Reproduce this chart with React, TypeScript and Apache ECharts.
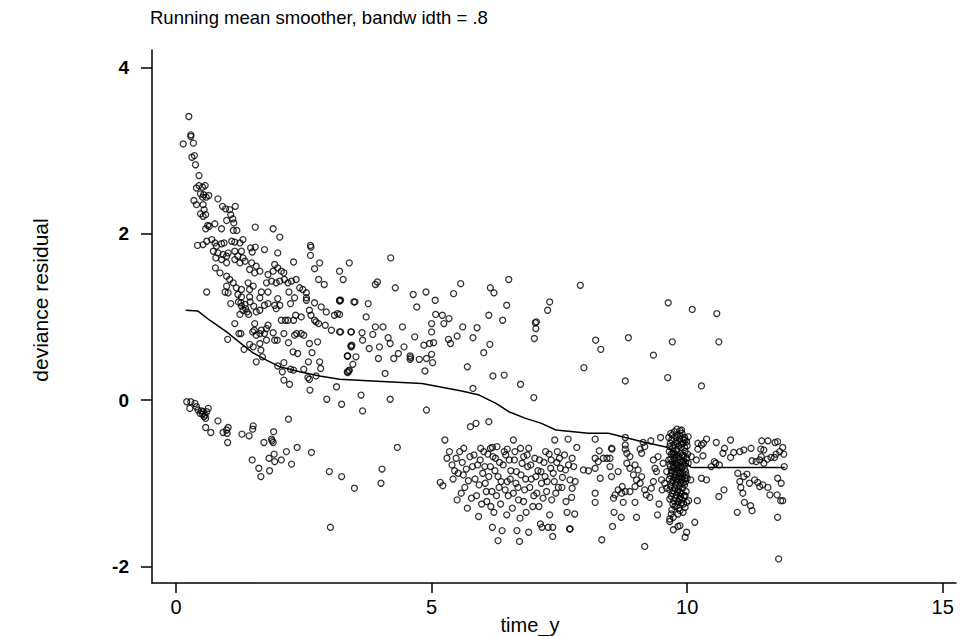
import React, { useEffect, useRef } from "react";
import * as echarts from "echarts";

// Running mean smoother line
const smoothX = [0.19, 0.43, 0.66, 0.99, 1.25, 1.5, 1.77, 2.03, 2.42, 2.81, 3.2, 3.84, 4.81, 5.15, 5.59, 5.93, 6.26, 6.51, 6.84, 7.15, 7.43, 8.07, 8.46, 8.79, 9.18, 9.63, 9.88, 10.08, 11.91];
const smoothY = [1.08, 1.07, 0.96, 0.82, 0.69, 0.57, 0.48, 0.4, 0.34, 0.29, 0.25, 0.23, 0.2, 0.16, 0.11, 0.06, -0.04, -0.14, -0.22, -0.28, -0.36, -0.4, -0.4, -0.45, -0.51, -0.57, -0.69, -0.81, -0.81];

// Upper steep band (early times, positive residuals)
const steepBand: number[][] = [
  [0.25, 3.41], [0.29, 3.19], [0.29, 3.17], [0.14, 3.08], [0.34, 3.09], [0.31, 2.92], [0.36, 2.94], [0.38, 2.83], [0.45, 2.7],
  [0.4, 2.55], [0.45, 2.58], [0.52, 2.56], [0.57, 2.58], [0.48, 2.48], [0.54, 2.47], [0.52, 2.44], [0.59, 2.44], [0.64, 2.46],
  [0.35, 2.4], [0.4, 2.35], [0.53, 2.35], [0.82, 2.42], [0.91, 2.33], [0.97, 2.3], [1.05, 2.29], [1.16, 2.33],
  [0.48, 2.24], [0.53, 2.21], [0.58, 2.23], [0.55, 2.29], [1.07, 2.23], [1.11, 2.18], [0.99, 2.16], [1.13, 2.13],
  [0.76, 2.12], [0.62, 2.1], [0.65, 2.09], [0.58, 2.06], [0.89, 2.06], [1.12, 2.04], [1.19, 2.04], [1.55, 2.08], [1.9, 2.06], [2.03, 1.96],
  [0.42, 1.86], [0.53, 1.87], [0.6, 1.91], [0.7, 1.93], [0.76, 1.89], [0.79, 1.85], [0.89, 1.88], [0.94, 1.89], [1.09, 1.91], [1.15, 1.9], [1.25, 1.89], [1.31, 1.93],
  [1.46, 1.83], [1.55, 1.84], [1.49, 1.78], [1.73, 1.81], [1.99, 1.77], [2.63, 1.86], [2.64, 1.84], [2.63, 1.74],
  [0.73, 1.79], [0.82, 1.77], [0.78, 1.71], [0.92, 1.75], [0.99, 1.73], [1.02, 1.77], [0.89, 1.69], [0.99, 1.65],
  [1.15, 1.79], [1.28, 1.79], [1.21, 1.73], [1.15, 1.69], [1.31, 1.71], [1.25, 1.65], [1.35, 1.67],
  [1.48, 1.65], [1.57, 1.61], [1.64, 1.55], [1.44, 1.57], [1.54, 1.53],
  [1.93, 1.63], [1.99, 1.59], [2.06, 1.55], [2.11, 1.53], [1.9, 1.55],
  [2.3, 1.66], [2.81, 1.65], [2.71, 1.58], [3.39, 1.65], [3.2, 1.55], [3.27, 1.45], [2.9, 1.39], [2.79, 1.45],
  [0.77, 1.59], [0.86, 1.53], [0.99, 1.49], [1.05, 1.45], [1.12, 1.41], [0.99, 1.37], [1.18, 1.35], [1.28, 1.33], [1.41, 1.41], [1.44, 1.33], [1.51, 1.37],
  [1.8, 1.51], [1.87, 1.43], [1.77, 1.41], [1.96, 1.41], [2.03, 1.43], [2.12, 1.45], [2.19, 1.41], [2.26, 1.43], [2.35, 1.45], [2.42, 1.35], [2.48, 1.33], [2.55, 1.29],
  [2.21, 1.3], [1.8, 1.3], [1.67, 1.3], [0.6, 1.3], [0.96, 1.3], [1.02, 1.29], [1.21, 1.27], [1.28, 1.24], [1.44, 1.24], [1.64, 1.23], [1.99, 1.22], [2.32, 1.23], [2.55, 1.23], [3.2, 1.2],
  [1.07, 1.16], [1.31, 1.08], [1.39, 1.06], [1.57, 1.06], [1.64, 1.08], [1.73, 1.14], [1.8, 1.16], [1.93, 1.14], [1.96, 1.1], [2.03, 1.14], [2.24, 1.16], [2.55, 1.2], [2.71, 1.17], [2.84, 1.12], [2.94, 1.06], [3.1, 1.02], [3.16, 1.04], [3.22, 1.2], [3.48, 1.18],
  [1.27, 1.17], [1.35, 1.15], [1.45, 1.18], [1.52, 1.13], [1.22, 1.18], [1.28, 1.13], [1.36, 1.1], [1.42, 1.03], [1.25, 1.03],
  [1.15, 0.92], [1.23, 0.8], [1.27, 0.8], [1.01, 0.73],
  [1.54, 0.92], [1.5, 0.82], [1.53, 0.84], [1.57, 0.78], [1.64, 0.8], [1.67, 0.84], [1.77, 0.86], [1.73, 0.8], [1.8, 0.9], [1.77, 0.72],
  [1.44, 0.67], [1.64, 0.68], [1.66, 0.6], [1.33, 0.61], [1.51, 0.64], [1.57, 0.46], [1.69, 0.52],
  [1.9, 0.81], [1.93, 0.72], [1.98, 0.72], [2.06, 0.96], [2.14, 0.96], [2.19, 0.96], [2.3, 0.96], [2.34, 1.02], [2.45, 1.0],
  [2.11, 0.8], [2.2, 0.69], [2.32, 0.78], [2.36, 0.8], [2.45, 0.8], [2.5, 0.78], [2.29, 0.58], [2.38, 0.56],
  [2.59, 0.46], [2.66, 0.57], [2.61, 0.68], [2.77, 0.7], [2.81, 0.46], [2.83, 0.38],
  [2.61, 1.08], [2.64, 1.02], [2.71, 0.96], [2.74, 0.94], [2.79, 0.92], [2.92, 0.9], [3.04, 0.84], [3.22, 0.82], [3.42, 0.82],
  [3.42, 0.65], [3.36, 0.53], [3.46, 0.43], [3.39, 0.36], [3.35, 0.34],
  [1.99, 0.41], [2.11, 0.45], [2.08, 0.34], [2.24, 0.37], [2.3, 0.36], [2.5, 0.37], [2.58, 0.27], [2.61, 0.25], [2.74, 0.29], [2.11, 0.24], [2.22, 0.19], [2.62, 0.12], [3.14, 0.16], [2.95, 0.01], [3.24, -0.05]
];

// Middle times, positive residuals
const midUpper: number[][] = [
  [4.2, 1.71], [3.9, 1.39], [3.94, 1.42], [4.29, 1.35], [4.64, 1.27], [4.89, 1.3], [4.71, 1.12], [5.07, 1.2], [5.57, 1.4], [5.43, 1.28], [6.15, 1.35], [6.22, 1.29], [6.51, 1.45], [6.47, 1.14], [6.12, 1.02], [6.39, 0.96],
  [3.2, 1.19], [3.5, 1.18], [3.76, 1.16], [3.2, 1.03], [3.72, 1.0], [3.2, 0.82], [3.43, 0.82], [3.64, 0.81], [3.65, 0.72], [3.85, 0.79], [3.9, 0.88], [4.05, 0.88],
  [3.43, 0.64], [3.44, 0.66], [3.78, 0.62], [3.98, 0.64], [4.15, 0.75], [4.19, 0.68], [4.43, 0.88], [4.46, 0.64], [4.35, 0.56], [4.26, 0.5], [3.96, 0.5], [3.35, 0.53], [3.52, 0.52], [3.36, 0.33], [3.38, 0.35], [4.09, 0.32],
  [4.58, 0.53], [4.58, 0.49], [4.59, 0.51], [4.76, 0.49], [4.67, 0.76], [4.85, 0.66], [4.9, 0.5], [4.87, 0.35], [5.0, 0.55], [5.02, 0.45], [4.96, 0.68], [5.04, 0.69], [5.0, 0.82], [5.0, 0.92],
  [5.08, 1.03], [5.21, 1.02], [5.34, 0.98], [5.24, 0.92], [5.33, 0.73], [5.37, 0.68], [5.5, 0.77], [5.61, 0.88], [5.81, 0.75], [5.89, 0.87], [6.14, 0.67], [6.02, 0.57], [5.7, 0.4], [6.2, 0.29], [6.42, 0.3], [6.74, 0.19],
  [7.03, 0.93], [7.05, 0.94], [7.04, 0.86], [7.01, 0.74], [7.27, 1.08], [7.31, 1.18], [7.91, 1.38], [7.98, 0.39], [7.0, 0.03], [5.81, 0.14], [3.62, 0.06], [4.19, 0.01], [3.65, -0.13], [4.9, -0.12]
];

// Late times, positive residuals
const lateUpper: number[][] = [
  [9.63, 1.17], [10.1, 1.09], [10.58, 1.04], [8.21, 0.72], [8.85, 0.75], [8.31, 0.61], [9.71, 0.7], [10.62, 0.7], [9.34, 0.54], [8.79, 0.23], [9.62, 0.27], [10.28, 0.17]
];

// Early times, negative residuals
const lowerLeft: number[][] = [
  [0.21, -0.02], [0.29, -0.02], [0.37, -0.04], [0.27, -0.1], [0.4, -0.08], [0.43, -0.12], [0.47, -0.16], [0.53, -0.14], [0.6, -0.14], [0.63, -0.1], [0.57, -0.18], [0.52, -0.17], [0.58, -0.22], [0.55, -0.2], [0.5, -0.13],
  [0.82, -0.25], [0.58, -0.33], [0.68, -0.39], [0.92, -0.39], [0.99, -0.36], [1.02, -0.33], [1.0, -0.4], [1.01, -0.51],
  [1.29, -0.41], [1.43, -0.43], [1.5, -0.35], [1.51, -0.31], [2.2, -0.23], [1.91, -0.38], [1.87, -0.47], [1.9, -0.51], [1.88, -0.49], [1.72, -0.51], [2.37, -0.57], [2.65, -0.63],
  [1.92, -0.65], [1.82, -0.7], [1.93, -0.74], [2.06, -0.72], [2.16, -0.62], [1.49, -0.72], [1.62, -0.82], [1.66, -0.92], [1.83, -0.85], [2.26, -0.77], [3.0, -0.86], [3.24, -0.92], [3.49, -1.06], [3.02, -1.53],
  [4.03, -0.83], [4.01, -1.0], [4.33, -0.57]
];

// Middle times, negative residuals
const lowerMid: number[][] = [
  [5.76, -0.32], [5.87, -0.28], [6.12, -0.26], [5.26, -0.48], [6.6, -0.48], [7.41, -0.48], [7.67, -0.47], [7.84, -0.57], [5.96, -0.58], [6.15, -0.58], [6.19, -0.57], [6.28, -0.56], [6.48, -0.59], [6.74, -0.58], [6.9, -0.58],
  [5.17, -0.99], [5.22, -1.03], [5.3, -0.7], [5.45, -0.85], [5.5, -1.2], [5.55, -0.62], [5.6, -0.75], [5.62, -0.9], [5.65, -1.05], [5.7, -1.3], [5.75, -0.68], [5.8, -0.8], [5.85, -0.95], [5.88, -1.15], [5.92, -1.4],
  [5.95, -0.72], [6.0, -0.88], [6.05, -1.0], [6.08, -1.22], [6.1, -0.65], [6.15, -0.8], [6.18, -1.1], [6.22, -1.35], [6.25, -0.7], [6.3, -0.92], [6.32, -1.05], [6.35, -1.25], [6.38, -1.57], [6.3, -1.69], [6.19, -1.53],
  [6.4, -0.78], [6.45, -0.66], [6.48, -0.98], [6.5, -1.15], [6.55, -0.85], [6.58, -1.3], [6.62, -0.72], [6.65, -1.0], [6.67, -1.57], [6.72, -1.7], [6.7, -1.2], [6.75, -0.9], [6.8, -0.68], [6.82, -1.08], [6.85, -1.35],
  [6.9, -1.59], [6.88, -0.8], [6.95, -0.95], [7.0, -1.15], [7.02, -0.7], [7.08, -0.85], [7.1, -1.28], [7.13, -1.49], [7.16, -1.53], [7.15, -1.0], [7.2, -0.75], [7.22, -0.92], [7.25, -1.1], [7.28, -1.53], [7.3, -0.65],
  [7.33, -0.82], [7.35, -1.2], [7.37, -1.53], [7.37, -1.64], [7.4, -0.98], [7.45, -0.75], [7.48, -1.05], [7.7, -1.55],
  [5.35, -0.62], [5.4, -0.78], [5.42, -0.95], [5.48, -0.7], [5.52, -0.88], [5.58, -1.12], [5.63, -0.58], [5.68, -0.83], [5.72, -0.97], [5.78, -1.18],
  [5.83, -0.66], [5.9, -0.78], [5.93, -1.02], [5.98, -1.25], [6.02, -0.62], [6.04, -0.8], [6.07, -1.1], [6.12, -0.92], [6.16, -1.28], [6.2, -0.68],
  [6.24, -0.85], [6.27, -1.15], [6.33, -0.75], [6.36, -0.98], [6.42, -0.62], [6.44, -1.08], [6.47, -1.38], [6.52, -0.72], [6.54, -0.95], [6.6, -1.12],
  [6.63, -0.62], [6.66, -0.86], [6.69, -1.05], [6.73, -1.42], [6.77, -0.76], [6.8, -1.22], [6.84, -0.95], [6.87, -0.66], [6.92, -1.05], [6.94, -0.78],
  [6.98, -1.28], [7.04, -0.92], [7.06, -1.12], [7.11, -0.72], [7.14, -0.86], [7.18, -1.18], [7.23, -0.62], [7.26, -0.98], [7.31, -1.38], [7.34, -0.72],
  [7.38, -0.88], [7.43, -1.12], [7.46, -0.62], [7.52, -0.82], [7.55, -1.05], [7.6, -0.66], [7.63, -1.22], [7.68, -0.78]
];

// Late times, negative residuals
const lowerRight: number[][] = [
  [8.2, -0.47], [8.79, -0.45], [8.79, -0.54], [8.79, -0.59], [8.82, -0.64], [8.88, -0.68], [9.14, -0.51], [9.17, -0.56], [9.08, -0.59], [9.11, -0.64], [9.29, -0.49], [9.48, -0.45], [8.52, -0.58], [8.53, -0.59], [8.28, -0.61],
  [7.5, -0.7], [7.62, -0.84], [7.56, -0.93], [7.75, -0.7], [7.78, -0.8], [7.71, -0.96], [7.81, -0.98], [7.75, -1.06], [7.74, -1.17], [7.65, -1.35], [7.8, -1.37], [7.71, -1.55],
  [7.97, -0.84], [8.07, -0.85], [8.2, -0.82], [8.3, -0.94], [8.2, -1.12], [8.2, -1.23], [8.2, -0.7], [8.26, -0.74], [8.36, -0.7], [8.43, -0.7], [8.49, -0.7], [8.49, -0.8], [8.65, -0.86], [8.52, -0.92],
  [8.33, -1.68], [8.54, -1.52], [8.57, -1.35], [8.71, -1.41], [8.56, -1.18], [8.59, -1.14], [8.65, -1.08], [8.73, -1.04], [8.72, -1.12], [8.79, -1.1], [8.88, -1.1], [8.75, -1.23], [8.98, -1.23], [9.01, -1.41], [9.17, -1.76],
  [8.82, -0.76], [8.88, -0.82], [8.98, -0.78], [9.04, -0.84], [8.95, -0.9], [9.01, -0.96], [9.08, -1.0], [8.98, -1.04], [9.11, -0.92],
  [9.17, -1.08], [9.2, -1.14], [9.27, -1.17], [9.3, -1.06], [9.34, -0.98], [9.37, -0.82], [9.4, -0.86], [9.43, -0.68], [9.34, -0.72], [9.42, -1.38], [9.45, -1.25], [9.5, -0.96], [9.56, -1.0], [9.51, -1.08], [9.6, -1.06], [9.53, -0.76], [9.6, -0.86],
  [9.66, -1.43], [9.69, -1.37], [9.73, -1.41], [9.82, -1.37], [9.86, -1.33], [9.92, -1.35], [9.89, -1.24], [9.96, -1.29], [9.99, -1.23], [10.03, -1.21],
  [9.73, -1.56], [9.86, -1.51], [9.99, -1.59], [9.96, -1.65], [10.15, -1.47], [9.66, -1.46], [9.82, -1.52], [10.2, -1.21],
  [10.07, -0.96], [10.28, -0.94], [10.38, -0.96], [10.08, -0.68], [10.18, -0.72], [10.21, -0.52], [10.28, -0.54], [10.32, -0.52], [10.38, -0.47], [10.21, -0.59], [10.31, -0.67], [10.02, -0.44], [9.96, -0.48], [9.86, -0.37], [9.89, -0.36],
  [10.47, -0.8], [10.53, -0.74], [10.56, -0.76], [10.63, -0.78], [10.57, -0.51], [10.7, -0.64], [10.73, -0.58], [10.85, -0.48], [10.85, -0.69], [10.91, -0.63], [11.03, -0.62], [11.11, -0.6], [11.25, -0.58],
  [10.62, -1.16], [10.72, -1.08], [10.98, -1.35], [10.99, -0.88], [11.03, -0.98], [11.05, -1.05], [11.11, -0.92], [11.17, -0.89], [11.09, -1.12], [11.12, -1.23], [11.24, -1.27], [11.27, -1.33], [11.22, -1.0], [11.32, -0.96], [11.38, -0.99],
  [11.27, -0.73], [11.35, -0.74], [11.42, -0.72], [11.45, -0.68], [11.5, -0.76], [11.57, -0.71], [11.64, -0.69], [11.42, -1.04], [11.48, -1.02], [11.58, -1.05], [11.62, -1.14], [11.76, -1.14], [11.77, -0.94], [11.84, -1.0], [11.83, -1.21], [11.77, -1.41], [11.9, -0.8],
  [11.46, -0.49], [11.58, -0.49], [11.72, -0.51], [11.77, -0.5], [11.87, -0.57], [11.81, -0.62], [11.89, -0.65], [11.74, -0.65], [11.71, -0.69], [11.44, -0.59], [11.5, -0.6], [11.87, -1.21], [11.79, -1.91]
];

// Dense column of observations near time 10
const cluster10: number[][] = [
  [9.68, -0.4], [9.75, -0.38], [9.82, -0.42], [9.9, -0.4], [9.95, -0.45], [9.7, -0.48], [9.78, -0.5], [9.85, -0.47], [9.92, -0.52], [10.0, -0.55],
  [9.66, -0.56], [9.72, -0.58], [9.8, -0.6], [9.88, -0.57], [9.96, -0.62], [9.69, -0.65], [9.76, -0.66], [9.84, -0.68], [9.91, -0.66], [9.99, -0.7],
  [9.64, -0.72], [9.71, -0.74], [9.79, -0.76], [9.86, -0.74], [9.94, -0.78], [10.02, -0.76], [9.67, -0.8], [9.74, -0.82], [9.82, -0.84], [9.89, -0.82],
  [9.97, -0.86], [9.7, -0.88], [9.77, -0.9], [9.85, -0.92], [9.92, -0.9], [10.0, -0.94], [9.65, -0.95], [9.73, -0.97], [9.8, -0.99], [9.88, -1.0],
  [9.95, -1.02], [9.68, -1.04], [9.76, -1.06], [9.83, -1.08], [9.91, -1.06], [9.98, -1.1], [9.71, -1.12], [9.79, -1.14], [9.87, -1.16], [9.94, -1.15],
  [9.66, -1.19], [9.74, -1.21], [9.82, -1.22], [9.9, -1.2], [9.76, -1.28], [9.84, -1.3], [9.7, -1.32], [9.8, -0.35], [9.87, -0.88], [9.75, -0.7],
  [9.83, -0.55], [9.93, -0.73], [9.78, -0.96], [9.86, -1.11], [9.73, -0.62], [9.97, -0.98], [9.81, -0.79], [9.9, -0.95],
  [9.64, -0.45], [9.71, -0.42], [9.79, -0.45], [9.86, -0.43], [9.93, -0.48], [9.99, -0.5], [9.67, -0.52], [9.74, -0.54], [9.81, -0.52], [9.89, -0.53],
  [9.95, -0.57], [9.65, -0.62], [9.72, -0.64], [9.8, -0.66], [9.87, -0.64], [9.94, -0.67], [10.01, -0.65], [9.68, -0.71], [9.76, -0.72], [9.83, -0.72],
  [9.9, -0.74], [9.97, -0.75], [9.66, -0.77], [9.73, -0.79], [9.8, -0.81], [9.87, -0.8], [9.95, -0.83], [9.69, -0.85], [9.76, -0.86], [9.84, -0.88],
  [9.91, -0.87], [9.98, -0.9], [9.67, -0.91], [9.74, -0.93], [9.81, -0.94], [9.89, -0.92], [9.96, -0.94], [9.7, -0.99], [9.77, -1.01], [9.85, -1.03],
  [9.92, -1.0], [9.66, -1.08], [9.73, -1.09], [9.81, -1.1], [9.89, -1.12], [9.96, -1.15], [9.69, -1.16], [9.77, -1.18], [9.85, -1.19], [9.93, -1.25],
  [9.72, -1.25], [9.8, -1.27]
];

const xTicks = [0, 5, 10, 15];
const yTicks = [-2, 0, 2, 4];

const FONT = "'Liberation Sans', Arial, Helvetica, sans-serif";

export default function App() {
  const ref = useRef<HTMLDivElement>(null);
  useEffect(() => {
    if (!ref.current) return;
    const chart = echarts.init(ref.current, undefined, { renderer: "svg" });
    const points = [...steepBand, ...midUpper, ...lateUpper, ...lowerLeft, ...lowerMid, ...lowerRight, ...cluster10];
    const line = smoothX.map((x, i) => [x, smoothY[i]]);
    chart.setOption({
      animation: false,
      backgroundColor: "#ffffff",
      grid: { left: 152, right: 4, top: 50, bottom: 53, containLabel: false },
      xAxis: {
        type: "value",
        min: -0.47,
        max: 15.26,
        axisLine: { show: true, onZero: false, lineStyle: { color: "#000", width: 1.5 } },
        axisTick: { show: true, customValues: xTicks, length: 10, inside: false, lineStyle: { color: "#000", width: 1.5 } },
        axisLabel: { customValues: xTicks, fontSize: 20, color: "#000", fontFamily: FONT, margin: 14 },
        splitLine: { show: false },
      },
      yAxis: {
        type: "value",
        min: -2.2,
        max: 4.21,
        axisLine: { show: true, onZero: false, lineStyle: { color: "#000", width: 1.5 } },
        axisTick: { show: true, customValues: yTicks, length: 11, inside: false, lineStyle: { color: "#000", width: 1.5 } },
        axisLabel: { customValues: yTicks, fontSize: 19, fontWeight: "bold", color: "#000", fontFamily: FONT, margin: 23 },
        splitLine: { show: false },
      },
      graphic: [
        { type: "text", left: 150, top: 8, style: { text: "Running mean smoother, bandw idth = .8", font: `18.5px ${FONT}`, fill: "#000" } },
        { type: "text", x: 530, y: 625, style: { text: "time_y", font: `20px ${FONT}`, fill: "#000", textAlign: "center", textVerticalAlign: "middle" } },
        { type: "text", x: 40, y: 300, rotation: Math.PI / 2, style: { text: "deviance residual", font: `21px ${FONT}`, fill: "#000", textAlign: "center", textVerticalAlign: "middle" } },
      ],
      series: [
        {
          type: "scatter",
          data: points,
          symbol: "circle",
          symbolSize: 6,
          itemStyle: { color: "rgba(0,0,0,0)", borderColor: "#000", borderWidth: 1.3 },
          silent: true,
        },
        {
          type: "line",
          data: line,
          showSymbol: false,
          symbol: "none",
          lineStyle: { color: "#000", width: 1.5 },
          silent: true,
        },
      ],
    });
    return () => chart.dispose();
  }, []);
  return <div ref={ref} style={{ position: "fixed", left: 0, top: 0, width: 960, height: 636, background: "#fff" }} />;
}
